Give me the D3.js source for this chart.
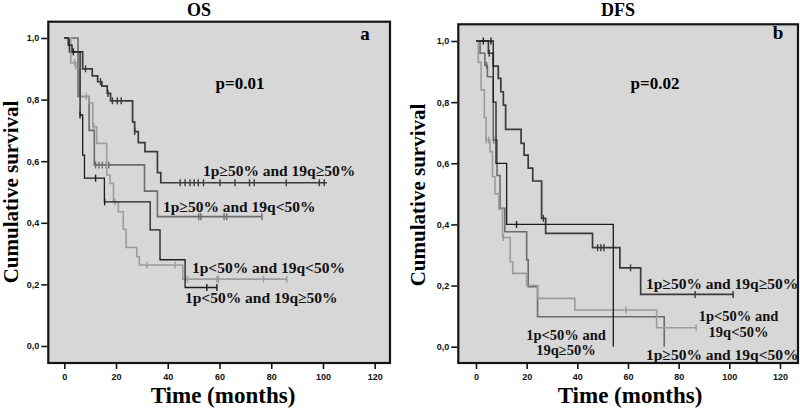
<!DOCTYPE html>
<html><head><meta charset="utf-8">
<script src="https://cdn.jsdelivr.net/npm/d3@7"></script>
<style>html,body{margin:0;padding:0;background:#fff;}svg{display:block;}</style>
</head><body>
<svg id="c" width="800" height="409"></svg>
<script>
// ---------- DATA ----------
const xTicks = [0, 20, 40, 60, 80, 100, 120];
const yTicks = [0, 0.2, 0.4, 0.6, 0.8, 1.0];
const seriesNames = ["1p≥50% and 19q≥50%", "1p≥50% and 19q<50%", "1p<50% and 19q<50%", "1p<50% and 19q≥50%"];

// OS panel
const osA_t = [0, 2, 7.1, 10.8, 12.9, 14.5, 16.6, 17.9, 26.4, 27.2, 28.6, 31.2, 36, 37.3];
const osA_s = [1, 0.955, 0.90, 0.877, 0.858, 0.844, 0.82, 0.796, 0.728, 0.696, 0.66, 0.631, 0.563, 0.53];
const osA_c = [8.2, 14, 16.9, 18.6, 20.5, 22, 27.2, 44.8, 46.7, 48.6, 50.2, 51.8, 53.8, 60.2, 66, 71.6, 73.4, 85.8, 98.6, 100.5];
const osA_end = 101.5;

const osB_t = [0, 5.3, 9.6, 11.6, 31, 36];
const osB_s = [1, 0.81, 0.70, 0.588, 0.503, 0.42];
const osB_c = [12.1, 13.4, 14.7, 16.2, 17.2, 52, 52.8, 61.8, 62.8, 76.4];
const osB_end = 76.4;

const osC_t = [0, 2.5, 4.5, 6, 9.5, 11, 12.5, 16.4, 17.7, 19, 20.9, 22.8, 23.9, 28, 29, 45.8];
const osC_s = [1, 0.92, 0.90, 0.81, 0.79, 0.712, 0.658, 0.555, 0.528, 0.468, 0.436, 0.379, 0.32, 0.29, 0.263, 0.217];
const osC_c = [4, 8.5, 11.5, 19.6, 31.9, 42.8, 47.6, 59, 59.6, 77, 86];
const osC_end = 86;

const osD_t = [0, 1.5, 3, 6.1, 7.1, 7.8, 15.5, 33.2, 37, 46.7];
const osD_s = [1, 0.977, 0.955, 0.75, 0.62, 0.545, 0.468, 0.377, 0.28, 0.19];
const osD_c = [3.5, 6.1, 12.1, 15.6, 55.1, 59];
const osD_end = 59;

// DFS panel
const dfsA_t = [0, 4.9, 6.8, 8.8, 9.8, 10.8, 11.7, 17.8, 19, 20.6, 22.4, 25.9, 27.5, 46, 56.8, 65];
const dfsA_s = [1, 0.96, 0.918, 0.878, 0.834, 0.79, 0.711, 0.665, 0.627, 0.584, 0.542, 0.42, 0.371, 0.324, 0.258, 0.171];
const dfsA_c = [5.2, 26.6, 48, 49.3, 50.5, 61, 86.5, 101.5];
const dfsA_end = 101.5;

const dfsB_t = [0, 1.6, 3.5, 4.5, 6.8, 8.3, 9.5, 11.4, 20, 20.6, 24.3, 74.3];
const dfsB_s = [1, 0.96, 0.92, 0.883, 0.676, 0.56, 0.453, 0.376, 0.284, 0.196, 0.098, 0];
const dfsB_c = [4.2, 7];
const dfsB_end = 74.3;

const dfsC_t = [0, 0.9, 2, 3.3, 4, 5.5, 6.5, 7.5, 9, 10.5, 13.5, 14.5, 20, 24.3, 39, 71.3];
const dfsC_s = [1, 0.93, 0.84, 0.75, 0.676, 0.638, 0.556, 0.5, 0.45, 0.357, 0.278, 0.24, 0.2, 0.158, 0.12, 0.062];
const dfsC_c = [4, 5, 10.8, 59.2, 86.9];
const dfsC_end = 86.9;

const dfsD_t = [0, 6.8, 7.9, 12.1, 54.2];
const dfsD_s = [1, 0.8, 0.6, 0.4, 0];
const dfsD_c = [2.9, 5.9, 16];
const dfsD_end = 54.2;

// ---------- STYLE ----------
const colors = ["#3a3a3a", "#6c6c6c", "#9c9c9c", "#1c1c1c"];
const widths = [1.7, 1.6, 1.6, 1.3];

const panels = [
  { title: "OS", letter: "a", p: "p=0.01",
    frame: {x0: 48.3, x1: 390, y0: 21.7, y1: 363},
    xr: [64.3, 374.7], yr: [346, 38],
    series: [[osA_t, osA_s, osA_c, osA_end], [osB_t, osB_s, osB_c, osB_end], [osC_t, osC_s, osC_c, osC_end], [osD_t, osD_s, osD_c, osD_end]],
    titleX: 199, letterX: 365, letterY: 40, pX: 240, pY: 88.5, ylabX: 18, ylabY: 192, xlabX: 223,
    labels: [
      {lines: [seriesNames[0]], x: 203, y: 176, anchor: "start"},
      {lines: [seriesNames[1]], x: 163, y: 212, anchor: "start"},
      {lines: [seriesNames[2]], x: 192, y: 273, anchor: "start"},
      {lines: [seriesNames[3]], x: 185, y: 303, anchor: "start"}
    ]},
  { title: "DFS", letter: "b", p: "p=0.02",
    frame: {x0: 458.3, x1: 798, y0: 24.3, y1: 363},
    xr: [476, 780], yr: [346.7, 41],
    series: [[dfsA_t, dfsA_s, dfsA_c, dfsA_end], [dfsB_t, dfsB_s, dfsB_c, dfsB_end], [dfsC_t, dfsC_s, dfsC_c, dfsC_end], [dfsD_t, dfsD_s, dfsD_c, dfsD_end]],
    titleX: 618, letterX: 778, letterY: 39, pX: 655, pY: 89, ylabX: 425, ylabY: 195, xlabX: 630,
    labels: [
      {lines: [seriesNames[0]], x: 646, y: 289, anchor: "start"},
      {lines: ["1p<50% and", "19q<50%"], x: 738.5, y: 321, anchor: "middle"},
      {lines: [seriesNames[1]], x: 646, y: 359.5, anchor: "start"},
      {lines: ["1p<50% and", "19q≥50%"], x: 566, y: 339.5, anchor: "middle"}
    ]}
];

const svg = d3.select("#c");
const serif = "'Liberation Serif','Times New Roman',serif";
const sans = "'Liberation Sans',Arial,sans-serif";

panels.forEach(P => {
  const g = svg.append("g");
  const f = P.frame;
  const x = d3.scaleLinear().domain([0, 120]).range(P.xr);
  const y = d3.scaleLinear().domain([0, 1]).range(P.yr);

  g.append("rect").attr("x", f.x0).attr("y", f.y0).attr("width", f.x1 - f.x0).attr("height", f.y1 - f.y0)
    .attr("fill", "#d7d7d7");

  // curves
  const line = d3.line().x(d => x(d[0])).y(d => y(d[1])).curve(d3.curveStepAfter);
  P.series.forEach((S, i) => {
    const [ts, ss, cs, end] = S;
    const pts = ts.map((t, k) => [t, ss[k]]);
    pts.push([end, ss[ss.length - 1]]);
    g.append("path").attr("d", line(pts)).attr("fill", "none")
      .attr("stroke", colors[i]).attr("stroke-width", widths[i]);
    const surv = t => { let v = ss[0]; for (let k = 0; k < ts.length; k++) if (ts[k] <= t) v = ss[k]; return v; };
    g.selectAll(null).data(cs).enter().append("line")
      .attr("x1", d => x(d)).attr("x2", d => x(d))
      .attr("y1", d => y(surv(d)) - 3.5).attr("y2", d => y(surv(d)) + 3.5)
      .attr("stroke", colors[i]).attr("stroke-width", 1.4);
  });

  // frame
  g.append("rect").attr("x", f.x0).attr("y", f.y0).attr("width", f.x1 - f.x0).attr("height", f.y1 - f.y0)
    .attr("fill", "none").attr("stroke", "#151515").attr("stroke-width", 2.2);

  // axes
  const ya = g.append("g").attr("transform", `translate(${f.x0 - 1},0)`)
    .call(d3.axisLeft(y).tickValues(yTicks).tickSize(6).tickPadding(2)
      .tickFormat(d => d3.format(".1f")(d).replace(".", ",")));
  const xa = g.append("g").attr("transform", `translate(0,${f.y1 + 1})`)
    .call(d3.axisBottom(x).tickValues(xTicks).tickSize(5).tickPadding(5).tickFormat(d3.format("d")));
  [ya, xa].forEach(a => {
    a.select(".domain").remove();
    a.selectAll("line").attr("stroke", "#151515").attr("stroke-width", 1.6);
    a.selectAll("text").attr("fill", "#111").style("font-family", sans).style("font-weight", "bold").style("font-size", "9px");
  });

  // texts
  g.append("text").attr("x", P.titleX).attr("y", 16).attr("text-anchor", "middle")
    .style("font-family", serif).style("font-weight", "bold").style("font-size", "18px").text(P.title);
  g.append("text").attr("x", P.letterX).attr("y", P.letterY).attr("text-anchor", "middle")
    .style("font-family", serif).style("font-weight", "bold").style("font-size", "19px").text(P.letter);
  g.append("text").attr("x", P.pX).attr("y", P.pY).attr("text-anchor", "middle")
    .style("font-family", serif).style("font-weight", "bold").style("font-size", "17px").text(P.p);
  g.append("text").attr("transform", `translate(${P.ylabX},${P.ylabY}) rotate(-90)`).attr("text-anchor", "middle")
    .style("font-family", serif).style("font-weight", "bold").style("font-size", "21px").text("Cumulative survival");
  g.append("text").attr("x", P.xlabX).attr("y", 403).attr("text-anchor", "middle")
    .style("font-family", serif).style("font-weight", "bold").style("font-size", "23px").text("Time (months)");

  P.labels.forEach(L => {
    const multi = L.lines.length > 1;
    L.lines.forEach((s, k) => {
      g.append("text").attr("text-anchor", L.anchor)
        .attr("x", L.x).attr("y", L.y + k * 15.5)
        .style("font-family", serif).style("font-weight", "bold")
        .style("font-size", multi ? "14.5px" : "15.5px").attr("fill", "#111").text(s);
    });
  });
});
</script>
</body></html>
